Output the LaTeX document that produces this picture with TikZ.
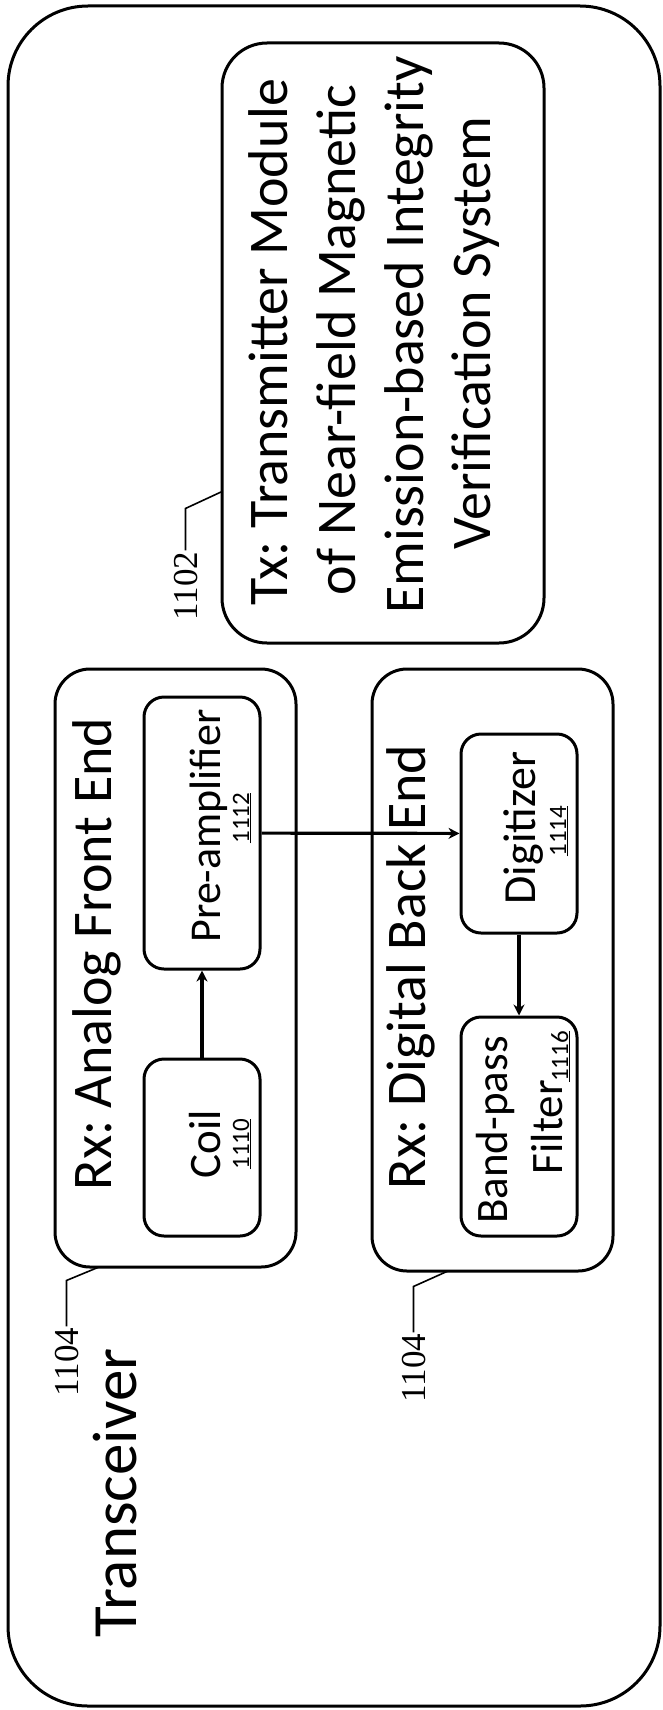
\documentclass[tikz,border=0pt]{standalone}
\usepackage{fontspec}
\setmainfont{Carlito}
\newfontfamily\numfont{Liberation Serif}
\usetikzlibrary{arrows.meta}
\newcommand\myfs[1]{\fontsize{#1}{#1}\selectfont}
\frenchspacing
\begin{document}
\begin{tikzpicture}[x=1pt,y=-1pt,
  box/.style={draw, line width=3pt, rounded corners=#1, inner sep=0pt},
  rtext/.style={rotate=90, inner sep=1pt, anchor=base},
  lead/.style={line width=1.6pt},
  arr/.style={line width=3.2pt, -{Stealth[length=11pt, width=11pt]}}]
\useasboundingbox (0,0) rectangle (663,1710);
% containers
\node[box=80, minimum width=652pt, minimum height=1700pt] (outer) at (334,856) {};
\node[box=45, minimum width=322pt, minimum height=600pt] (tx) at (383,343) {};
\node[box=35, minimum width=241pt, minimum height=598pt] (rxa) at (175.5,968) {};
\node[box=35, minimum width=241pt, minimum height=602pt] (rxd) at (492.5,970) {};
% inner blocks
\node[box=20, minimum width=116pt, minimum height=272pt] (pre) at (202,833) {};
\node[box=20, minimum width=116pt, minimum height=177pt] (coil) at (202,1147.5) {};
\node[box=20, minimum width=116pt, minimum height=199pt] (dig) at (519,833.5) {};
\node[box=20, minimum width=116pt, minimum height=219pt] (bp) at (519,1126.5) {};
% titles
\node[rtext, font=\myfs{63}] (ttr) at (136,1493) {Transceiver};
\node[rtext, font=\myfs{56}] (tra) at (111,954) {Rx: Analog Front End};
\node[rtext, font=\myfs{56}] (trd) at (425,967) {Rx: Digital Back End};
\node[rtext, font=\myfs{56}] (tx1) at (287,342) {Tx: Transmitter Module};
\node[rtext, font=\myfs{56}] (tx2) at (355,340) {of Near-field Magnetic};
\node[rtext, font=\myfs{56}] (tx3) at (423,335) {Emission-based Integrity};
\node[rtext, font=\myfs{56}] (tx4) at (490,333) {Verification System};
% block texts
\node[rtext, font=\myfs{44}] (tpre) at (220,826) {Pre-amplifier};
\node[rtext, font=\myfs{25}] (npre) at (249,818) {\underline{1112}};
\node[rtext, font=\myfs{45}] (tcoil) at (220,1144) {Coil};
\node[rtext, font=\myfs{25}] (ncoil) at (249,1144) {\underline{1110}};
\node[rtext, font=\myfs{46}] (tdig) at (535,828) {Digitizer};
\node[rtext, font=\myfs{25}] (ndig) at (566,831) {\underline{1114}};
\node[rtext, font=\myfs{45}] (tbp1) at (507,1130) {Band-pass};
\node[rtext, font=\myfs{45}] (tbp2) at (562,1127) {Filter};
\node[rtext, font=\myfs{25}, anchor=base west] (nbp) at (568,1083) {\underline{1116}};
% reference numerals
\node[rtext, font=\numfont\myfs{35}] (r1) at (78,1362) {1104};
\node[rtext, font=\numfont\myfs{35}] (r2) at (425,1368) {1104};
\node[rtext, font=\numfont\myfs{35}] (r3) at (197,586) {1102};
\coordinate (e1) at (99,1267);
\coordinate (e2) at (448,1271);
\coordinate (e3) at (221,492);
\draw[lead] (r1.east) -- ++(0,-46) -- (e1);
\draw[lead] (r2.east) -- ++(0,-46) -- (e2);
\draw[lead] (r3.east) -- ++(0,-42) -- (e3);
% arrows
\draw[arr] (coil) -- (pre);
\draw[arr] (pre) -- (dig);
\draw[arr] (dig) -- (bp);
\end{tikzpicture}
\end{document}
